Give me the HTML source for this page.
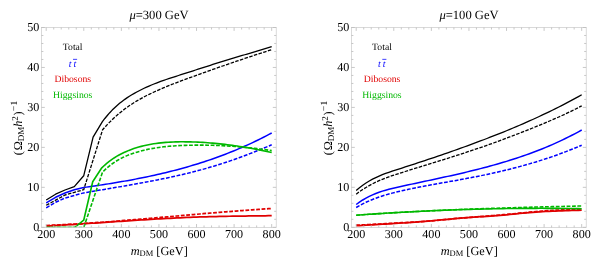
<!DOCTYPE html>
<html><head><meta charset="utf-8"><title>plot</title>
<style>
html,body{margin:0;padding:0;background:#fff;}
body{width:600px;height:267px;overflow:hidden;}
svg{display:block;will-change:transform;font-family:"Liberation Serif",serif;text-rendering:geometricPrecision;}
</style></head><body>
<svg width="600" height="267" viewBox="0 0 600 267">
<rect width="600" height="267" fill="#fff"/>
<defs><clipPath id="cl"><rect x="41.4" y="27.5" width="234.8" height="199.85"/></clipPath><clipPath id="cr"><rect x="351.4" y="27.5" width="234.8" height="199.85"/></clipPath></defs>
<g fill="none" stroke-linejoin="round"><g clip-path="url(#cl)">
<path d="M46.20,202.80 L55.60,197.30 L65.00,193.00 L74.30,189.70 L83.70,187.50 L86.42,187.12 L89.15,186.73 L91.87,186.34 L94.60,185.94 L97.32,185.54 L100.05,185.13 L102.77,184.72 L105.50,184.30 L108.22,183.87 L110.95,183.43 L113.67,182.99 L116.40,182.54 L119.12,182.08 L121.84,181.61 L124.57,181.13 L127.29,180.65 L130.02,180.15 L132.74,179.64 L135.47,179.13 L138.19,178.60 L140.92,178.06 L143.64,177.51 L146.37,176.95 L149.09,176.38 L151.82,175.80 L154.54,175.20 L157.27,174.59 L159.99,173.97 L162.71,173.33 L165.44,172.68 L168.16,172.01 L170.89,171.33 L173.61,170.64 L176.34,169.93 L179.06,169.20 L181.79,168.46 L184.51,167.71 L187.24,166.93 L189.96,166.14 L192.69,165.33 L195.41,164.51 L198.13,163.67 L200.86,162.81 L203.58,161.93 L206.31,161.03 L209.03,160.11 L211.76,159.18 L214.48,158.22 L217.21,157.24 L219.93,156.25 L222.66,155.23 L225.38,154.19 L228.11,153.13 L230.83,152.05 L233.56,150.94 L236.28,149.82 L239.00,148.67 L241.73,147.50 L244.45,146.30 L247.18,145.08 L249.90,143.84 L252.63,142.57 L255.35,141.28 L258.08,139.96 L260.80,138.62 L263.53,137.25 L266.25,135.86 L268.98,134.44 L271.70,132.99" stroke="#0000ff" stroke-width="1.50"/>
<path d="M46.20,207.80 L55.60,202.30 L65.00,198.00 L83.70,192.90 L86.42,192.43 L89.15,191.95 L91.87,191.49 L94.60,191.02 L97.32,190.56 L100.05,190.10 L102.77,189.64 L105.50,189.18 L108.22,188.72 L110.95,188.26 L113.67,187.80 L116.40,187.33 L119.12,186.87 L121.84,186.41 L124.57,185.94 L127.29,185.47 L130.02,184.99 L132.74,184.51 L135.47,184.03 L138.19,183.54 L140.92,183.05 L143.64,182.55 L146.37,182.04 L149.09,181.53 L151.82,181.01 L154.54,180.48 L157.27,179.95 L159.99,179.40 L162.71,178.85 L165.44,178.29 L168.16,177.71 L170.89,177.13 L173.61,176.54 L176.34,175.93 L179.06,175.31 L181.79,174.68 L184.51,174.03 L187.24,173.38 L189.96,172.71 L192.69,172.02 L195.41,171.32 L198.13,170.60 L200.86,169.87 L203.58,169.12 L206.31,168.36 L209.03,167.58 L211.76,166.78 L214.48,165.96 L217.21,165.12 L219.93,164.27 L222.66,163.39 L225.38,162.50 L228.11,161.58 L230.83,160.65 L233.56,159.70 L236.28,158.74 L239.00,157.75 L241.73,156.75 L244.45,155.74 L247.18,154.71 L249.90,153.66 L252.63,152.60 L255.35,151.52 L258.08,150.43 L260.80,149.33 L263.53,148.21 L266.25,147.08 L268.98,145.94 L271.70,144.79" stroke="#0000ff" stroke-width="1.50" stroke-dasharray="3.8 1.6"/>
<path d="M46.20,226.00 L49.47,225.83 L52.74,225.66 L56.00,225.48 L59.27,225.29 L62.54,225.10 L65.81,224.91 L69.08,224.71 L72.34,224.51 L75.61,224.31 L78.88,224.10 L82.15,223.89 L85.42,223.68 L88.69,223.46 L91.95,223.25 L95.22,223.03 L98.49,222.81 L101.76,222.59 L105.03,222.37 L108.29,222.15 L111.56,221.93 L114.83,221.71 L118.10,221.49 L121.37,221.27 L124.63,221.05 L127.90,220.83 L131.17,220.62 L134.44,220.41 L137.71,220.19 L140.98,219.98 L144.24,219.78 L147.51,219.58 L150.78,219.38 L154.05,219.18 L157.32,218.99 L160.58,218.80 L163.85,218.62 L167.12,218.44 L170.39,218.26 L173.66,218.10 L176.92,217.93 L180.19,217.78 L183.46,217.63 L186.73,217.48 L190.00,217.34 L193.27,217.21 L196.53,217.09 L199.80,216.98 L203.07,216.87 L206.34,216.77 L209.61,216.68 L212.87,216.59 L216.14,216.51 L219.41,216.44 L222.68,216.37 L225.95,216.31 L229.21,216.25 L232.48,216.19 L235.75,216.14 L239.02,216.09 L242.29,216.05 L245.56,216.01 L248.82,215.97 L252.09,215.93 L255.36,215.89 L258.63,215.85 L261.90,215.81 L265.16,215.78 L268.43,215.74 L271.70,215.70" stroke="#e00000" stroke-width="1.75"/>
<path d="M46.20,225.50 L49.47,225.36 L52.74,225.22 L56.00,225.06 L59.27,224.90 L62.54,224.73 L65.81,224.56 L69.08,224.38 L72.34,224.19 L75.61,224.00 L78.88,223.80 L82.15,223.59 L85.42,223.38 L88.69,223.17 L91.95,222.95 L95.22,222.72 L98.49,222.49 L101.76,222.25 L105.03,222.01 L108.29,221.77 L111.56,221.52 L114.83,221.27 L118.10,221.01 L121.37,220.75 L124.63,220.49 L127.90,220.22 L131.17,219.95 L134.44,219.68 L137.71,219.41 L140.98,219.13 L144.24,218.85 L147.51,218.57 L150.78,218.29 L154.05,218.01 L157.32,217.73 L160.58,217.44 L163.85,217.15 L167.12,216.87 L170.39,216.58 L173.66,216.29 L176.92,216.00 L180.19,215.72 L183.46,215.43 L186.73,215.14 L190.00,214.86 L193.27,214.57 L196.53,214.29 L199.80,214.00 L203.07,213.72 L206.34,213.44 L209.61,213.16 L212.87,212.89 L216.14,212.61 L219.41,212.34 L222.68,212.07 L225.95,211.81 L229.21,211.55 L232.48,211.29 L235.75,211.03 L239.02,210.78 L242.29,210.53 L245.56,210.29 L248.82,210.05 L252.09,209.81 L255.36,209.58 L258.63,209.35 L261.90,209.13 L265.16,208.92 L268.43,208.71 L271.70,208.50" stroke="#e00000" stroke-width="1.75" stroke-dasharray="3.8 1.6"/>
<path d="M46.20,227.55 L74.60,227.55 L83.70,220.20 L92.70,181.70 L101.80,167.80 L104.26,165.52 L106.72,163.41 L109.19,161.45 L111.65,159.64 L114.11,157.96 L116.57,156.42 L119.04,155.00 L121.50,153.70 L123.96,152.50 L126.42,151.40 L128.89,150.38 L131.35,149.45 L133.81,148.58 L136.27,147.78 L138.73,147.05 L141.20,146.37 L143.66,145.75 L146.12,145.19 L148.58,144.68 L151.05,144.22 L153.51,143.80 L155.97,143.44 L158.43,143.12 L160.90,142.84 L163.36,142.60 L165.82,142.39 L168.28,142.22 L170.74,142.09 L173.21,141.98 L175.67,141.90 L178.13,141.85 L180.59,141.82 L183.06,141.81 L185.52,141.83 L187.98,141.86 L190.44,141.90 L192.91,141.97 L195.37,142.06 L197.83,142.16 L200.29,142.28 L202.76,142.42 L205.22,142.57 L207.68,142.74 L210.14,142.93 L212.60,143.14 L215.07,143.36 L217.53,143.59 L219.99,143.85 L222.45,144.12 L224.92,144.40 L227.38,144.70 L229.84,145.02 L232.30,145.35 L234.77,145.69 L237.23,146.05 L239.69,146.42 L242.15,146.81 L244.61,147.21 L247.08,147.63 L249.54,148.06 L252.00,148.50 L254.46,148.96 L256.93,149.42 L259.39,149.91 L261.85,150.40 L264.31,150.91 L266.78,151.42 L269.24,151.95 L271.70,152.50" stroke="#00b800" stroke-width="1.60"/>
<path d="M46.20,227.55 L83.70,227.55 L102.50,172.20 L104.95,169.79 L107.40,167.59 L109.86,165.57 L112.31,163.72 L114.76,162.04 L117.21,160.51 L119.67,159.11 L122.12,157.84 L124.57,156.69 L127.02,155.63 L129.47,154.66 L131.93,153.77 L134.38,152.94 L136.83,152.17 L139.28,151.46 L141.73,150.79 L144.19,150.18 L146.64,149.61 L149.09,149.09 L151.54,148.61 L154.00,148.18 L156.45,147.78 L158.90,147.42 L161.35,147.10 L163.80,146.81 L166.26,146.55 L168.71,146.32 L171.16,146.12 L173.61,145.94 L176.07,145.78 L178.52,145.65 L180.97,145.53 L183.42,145.43 L185.87,145.34 L188.33,145.27 L190.78,145.21 L193.23,145.17 L195.68,145.14 L198.13,145.13 L200.59,145.12 L203.04,145.14 L205.49,145.16 L207.94,145.20 L210.40,145.25 L212.85,145.32 L215.30,145.40 L217.75,145.49 L220.20,145.59 L222.66,145.71 L225.11,145.84 L227.56,145.98 L230.01,146.14 L232.47,146.31 L234.92,146.49 L237.37,146.68 L239.82,146.88 L242.27,147.10 L244.73,147.33 L247.18,147.57 L249.63,147.82 L252.08,148.08 L254.53,148.36 L256.99,148.65 L259.44,148.94 L261.89,149.25 L264.34,149.57 L266.80,149.90 L269.25,150.25 L271.70,150.60" stroke="#00b800" stroke-width="1.60" stroke-dasharray="3.8 1.6"/>
<path d="M46.20,200.00 L55.60,194.20 L65.00,190.00 L74.30,186.60 L83.70,175.80 L93.10,137.20 L102.40,121.70 L104.85,118.47 L107.31,115.47 L109.76,112.68 L112.21,110.08 L114.67,107.67 L117.12,105.43 L119.58,103.35 L122.03,101.41 L124.48,99.59 L126.94,97.90 L129.39,96.30 L131.84,94.80 L134.30,93.37 L136.75,92.01 L139.20,90.71 L141.66,89.47 L144.11,88.28 L146.57,87.14 L149.02,86.06 L151.47,85.02 L153.93,84.02 L156.38,83.05 L158.83,82.12 L161.29,81.22 L163.74,80.35 L166.19,79.50 L168.65,78.68 L171.10,77.86 L173.56,77.07 L176.01,76.28 L178.46,75.50 L180.92,74.72 L183.37,73.94 L185.82,73.16 L188.28,72.37 L190.73,71.58 L193.18,70.79 L195.64,70.00 L198.09,69.21 L200.54,68.42 L203.00,67.63 L205.45,66.84 L207.91,66.05 L210.36,65.27 L212.81,64.49 L215.27,63.71 L217.72,62.93 L220.17,62.16 L222.63,61.39 L225.08,60.63 L227.53,59.87 L229.99,59.13 L232.44,58.38 L234.90,57.65 L237.35,56.92 L239.80,56.19 L242.26,55.47 L244.71,54.75 L247.16,54.03 L249.62,53.31 L252.07,52.59 L254.52,51.87 L256.98,51.14 L259.43,50.42 L261.89,49.69 L264.34,48.95 L266.79,48.21 L269.25,47.46 L271.70,46.70" stroke="#000" stroke-width="1.30"/>
<path d="M46.20,205.30 L65.00,195.00 L83.70,189.70 L102.60,129.80 L105.05,127.04 L107.50,124.41 L109.95,121.89 L112.40,119.50 L114.85,117.21 L117.30,115.03 L119.76,112.96 L122.21,110.98 L124.66,109.09 L127.11,107.30 L129.56,105.58 L132.01,103.95 L134.46,102.39 L136.91,100.89 L139.36,99.47 L141.81,98.10 L144.26,96.79 L146.71,95.53 L149.16,94.31 L151.61,93.14 L154.07,92.00 L156.52,90.89 L158.97,89.82 L161.42,88.76 L163.87,87.72 L166.32,86.71 L168.77,85.71 L171.22,84.72 L173.67,83.76 L176.12,82.80 L178.57,81.86 L181.02,80.93 L183.47,80.01 L185.92,79.10 L188.38,78.20 L190.83,77.31 L193.28,76.42 L195.73,75.53 L198.18,74.65 L200.63,73.77 L203.08,72.90 L205.53,72.02 L207.98,71.15 L210.43,70.29 L212.88,69.42 L215.33,68.56 L217.78,67.71 L220.23,66.85 L222.69,66.00 L225.14,65.15 L227.59,64.31 L230.04,63.46 L232.49,62.63 L234.94,61.79 L237.39,60.96 L239.84,60.13 L242.29,59.31 L244.74,58.49 L247.19,57.67 L249.64,56.86 L252.09,56.05 L254.54,55.24 L257.00,54.44 L259.45,53.64 L261.90,52.84 L264.35,52.05 L266.80,51.27 L269.25,50.48 L271.70,49.70" stroke="#000" stroke-width="1.30" stroke-dasharray="3.5 1.4"/>
</g><g clip-path="url(#cr)">
<path d="M356.20,204.50 L359.47,202.12 L362.74,199.98 L366.00,198.06 L369.27,196.35 L372.54,194.82 L375.81,193.46 L379.08,192.24 L382.34,191.15 L385.61,190.17 L388.88,189.28 L392.15,188.47 L395.42,187.70 L398.69,186.97 L401.95,186.25 L405.22,185.54 L408.49,184.83 L411.76,184.12 L415.03,183.42 L418.29,182.72 L421.56,182.03 L424.83,181.33 L428.10,180.63 L431.37,179.93 L434.63,179.23 L437.90,178.52 L441.17,177.82 L444.44,177.10 L447.71,176.38 L450.98,175.65 L454.24,174.92 L457.51,174.17 L460.78,173.42 L464.05,172.66 L467.32,171.88 L470.58,171.09 L473.85,170.29 L477.12,169.48 L480.39,168.64 L483.66,167.80 L486.92,166.94 L490.19,166.05 L493.46,165.15 L496.73,164.23 L500.00,163.29 L503.27,162.33 L506.53,161.35 L509.80,160.34 L513.07,159.30 L516.34,158.25 L519.61,157.16 L522.87,156.04 L526.14,154.90 L529.41,153.73 L532.68,152.52 L535.95,151.28 L539.21,150.01 L542.48,148.71 L545.75,147.37 L549.02,145.99 L552.29,144.58 L555.56,143.13 L558.82,141.64 L562.09,140.10 L565.36,138.53 L568.63,136.91 L571.90,135.25 L575.16,133.55 L578.43,131.80 L581.70,130.00" stroke="#0000ff" stroke-width="1.50"/>
<path d="M356.20,207.50 L359.47,205.62 L362.74,203.89 L366.00,202.28 L369.27,200.81 L372.54,199.44 L375.81,198.19 L379.08,197.02 L382.34,195.95 L385.61,194.94 L388.88,194.01 L392.15,193.14 L395.42,192.31 L398.69,191.52 L401.95,190.76 L405.22,190.03 L408.49,189.32 L411.76,188.62 L415.03,187.95 L418.29,187.30 L421.56,186.66 L424.83,186.03 L428.10,185.42 L431.37,184.82 L434.63,184.22 L437.90,183.64 L441.17,183.05 L444.44,182.47 L447.71,181.90 L450.98,181.32 L454.24,180.74 L457.51,180.15 L460.78,179.56 L464.05,178.96 L467.32,178.35 L470.58,177.73 L473.85,177.10 L477.12,176.46 L480.39,175.80 L483.66,175.12 L486.92,174.44 L490.19,173.73 L493.46,173.01 L496.73,172.28 L500.00,171.52 L503.27,170.75 L506.53,169.96 L509.80,169.15 L513.07,168.32 L516.34,167.47 L519.61,166.60 L522.87,165.71 L526.14,164.79 L529.41,163.86 L532.68,162.89 L535.95,161.91 L539.21,160.90 L542.48,159.86 L545.75,158.80 L549.02,157.71 L552.29,156.59 L555.56,155.44 L558.82,154.27 L562.09,153.07 L565.36,151.84 L568.63,150.57 L571.90,149.28 L575.16,147.95 L578.43,146.59 L581.70,145.20" stroke="#0000ff" stroke-width="1.50" stroke-dasharray="3.8 1.6"/>
<path d="M356.20,225.70 L359.47,225.53 L362.74,225.35 L366.00,225.17 L369.27,224.99 L372.54,224.81 L375.81,224.62 L379.08,224.44 L382.34,224.24 L385.61,224.05 L388.88,223.84 L392.15,223.64 L395.42,223.43 L398.69,223.22 L401.95,223.00 L405.22,222.77 L408.49,222.54 L411.76,222.31 L415.03,222.07 L418.29,221.82 L421.56,221.57 L424.83,221.31 L428.10,221.05 L431.37,220.78 L434.63,220.50 L437.90,220.22 L441.17,219.94 L444.44,219.64 L447.71,219.35 L450.98,219.05 L454.24,218.74 L457.51,218.44 L460.78,218.15 L464.05,217.88 L467.32,217.62 L470.58,217.38 L473.85,217.16 L477.12,216.94 L480.39,216.73 L483.66,216.52 L486.92,216.30 L490.19,216.08 L493.46,215.85 L496.73,215.60 L500.00,215.34 L503.27,215.06 L506.53,214.76 L509.80,214.44 L513.07,214.13 L516.34,213.80 L519.61,213.48 L522.87,213.17 L526.14,212.87 L529.41,212.59 L532.68,212.33 L535.95,212.08 L539.21,211.86 L542.48,211.66 L545.75,211.47 L549.02,211.30 L552.29,211.15 L555.56,211.01 L558.82,210.88 L562.09,210.76 L565.36,210.65 L568.63,210.55 L571.90,210.45 L575.16,210.37 L578.43,210.28 L581.70,210.20" stroke="#e00000" stroke-width="1.75"/>
<path d="M356.20,225.20 L359.47,225.05 L362.74,224.90 L366.00,224.74 L369.27,224.57 L372.54,224.40 L375.81,224.22 L379.08,224.04 L382.34,223.85 L385.61,223.67 L388.88,223.48 L392.15,223.29 L395.42,223.10 L398.69,222.92 L401.95,222.73 L405.22,222.55 L408.49,222.36 L411.76,222.17 L415.03,221.98 L418.29,221.77 L421.56,221.56 L424.83,221.33 L428.10,221.09 L431.37,220.83 L434.63,220.56 L437.90,220.27 L441.17,219.97 L444.44,219.65 L447.71,219.34 L450.98,219.02 L454.24,218.70 L457.51,218.39 L460.78,218.09 L464.05,217.80 L467.32,217.53 L470.58,217.27 L473.85,217.01 L477.12,216.77 L480.39,216.52 L483.66,216.28 L486.92,216.04 L490.19,215.79 L493.46,215.54 L496.73,215.28 L500.00,215.00 L503.27,214.72 L506.53,214.42 L509.80,214.11 L513.07,213.80 L516.34,213.48 L519.61,213.16 L522.87,212.84 L526.14,212.53 L529.41,212.22 L532.68,211.92 L535.95,211.64 L539.21,211.36 L542.48,211.10 L545.75,210.85 L549.02,210.61 L552.29,210.39 L555.56,210.18 L558.82,210.00 L562.09,209.82 L565.36,209.67 L568.63,209.53 L571.90,209.42 L575.16,209.32 L578.43,209.25 L581.70,209.20" stroke="#e00000" stroke-width="1.75" stroke-dasharray="3.8 1.6"/>
<path d="M356.20,215.20 L359.47,214.97 L362.74,214.74 L366.00,214.52 L369.27,214.29 L372.54,214.08 L375.81,213.86 L379.08,213.65 L382.34,213.45 L385.61,213.25 L388.88,213.05 L392.15,212.85 L395.42,212.66 L398.69,212.47 L401.95,212.29 L405.22,212.11 L408.49,211.94 L411.76,211.76 L415.03,211.60 L418.29,211.43 L421.56,211.27 L424.83,211.12 L428.10,210.97 L431.37,210.82 L434.63,210.67 L437.90,210.53 L441.17,210.40 L444.44,210.27 L447.71,210.14 L450.98,210.02 L454.24,209.90 L457.51,209.78 L460.78,209.67 L464.05,209.57 L467.32,209.46 L470.58,209.37 L473.85,209.27 L477.12,209.18 L480.39,209.10 L483.66,209.02 L486.92,208.94 L490.19,208.87 L493.46,208.80 L496.73,208.74 L500.00,208.68 L503.27,208.62 L506.53,208.57 L509.80,208.53 L513.07,208.49 L516.34,208.45 L519.61,208.42 L522.87,208.39 L526.14,208.37 L529.41,208.35 L532.68,208.34 L535.95,208.33 L539.21,208.32 L542.48,208.32 L545.75,208.33 L549.02,208.34 L552.29,208.35 L555.56,208.37 L558.82,208.40 L562.09,208.43 L565.36,208.46 L568.63,208.50 L571.90,208.54 L575.16,208.59 L578.43,208.64 L581.70,208.70" stroke="#00b800" stroke-width="1.60"/>
<path d="M356.20,215.20 L359.47,214.97 L362.74,214.74 L366.00,214.51 L369.27,214.29 L372.54,214.07 L375.81,213.86 L379.08,213.65 L382.34,213.44 L385.61,213.24 L388.88,213.04 L392.15,212.85 L395.42,212.66 L398.69,212.47 L401.95,212.28 L405.22,212.10 L408.49,211.92 L411.76,211.75 L415.03,211.58 L418.29,211.41 L421.56,211.24 L424.83,211.08 L428.10,210.92 L431.37,210.77 L434.63,210.61 L437.90,210.46 L441.17,210.32 L444.44,210.17 L447.71,210.03 L450.98,209.89 L454.24,209.76 L457.51,209.62 L460.78,209.49 L464.05,209.36 L467.32,209.24 L470.58,209.11 L473.85,208.99 L477.12,208.87 L480.39,208.75 L483.66,208.64 L486.92,208.53 L490.19,208.42 L493.46,208.31 L496.73,208.20 L500.00,208.10 L503.27,208.00 L506.53,207.90 L509.80,207.80 L513.07,207.70 L516.34,207.61 L519.61,207.51 L522.87,207.42 L526.14,207.33 L529.41,207.24 L532.68,207.16 L535.95,207.07 L539.21,206.99 L542.48,206.90 L545.75,206.82 L549.02,206.74 L552.29,206.66 L555.56,206.59 L558.82,206.51 L562.09,206.43 L565.36,206.36 L568.63,206.29 L571.90,206.21 L575.16,206.14 L578.43,206.07 L581.70,206.00" stroke="#00b800" stroke-width="1.60" stroke-dasharray="3.8 1.6"/>
<path d="M356.20,190.40 L359.47,187.65 L362.74,185.18 L366.00,182.98 L369.27,180.99 L372.54,179.18 L375.81,177.55 L379.08,176.06 L382.34,174.70 L385.61,173.44 L388.88,172.27 L392.15,171.16 L395.42,170.09 L398.69,169.05 L401.95,168.01 L405.22,166.97 L408.49,165.92 L411.76,164.86 L415.03,163.80 L418.29,162.73 L421.56,161.65 L424.83,160.57 L428.10,159.48 L431.37,158.39 L434.63,157.29 L437.90,156.18 L441.17,155.06 L444.44,153.93 L447.71,152.80 L450.98,151.66 L454.24,150.51 L457.51,149.35 L460.78,148.18 L464.05,147.00 L467.32,145.82 L470.58,144.62 L473.85,143.42 L477.12,142.20 L480.39,140.98 L483.66,139.74 L486.92,138.49 L490.19,137.23 L493.46,135.96 L496.73,134.67 L500.00,133.37 L503.27,132.06 L506.53,130.73 L509.80,129.38 L513.07,128.02 L516.34,126.64 L519.61,125.25 L522.87,123.83 L526.14,122.40 L529.41,120.95 L532.68,119.49 L535.95,118.00 L539.21,116.49 L542.48,114.96 L545.75,113.41 L549.02,111.84 L552.29,110.24 L555.56,108.63 L558.82,106.98 L562.09,105.32 L565.36,103.63 L568.63,101.92 L571.90,100.18 L575.16,98.41 L578.43,96.62 L581.70,94.80" stroke="#000" stroke-width="1.30"/>
<path d="M356.20,194.30 L359.47,191.68 L362.74,189.54 L366.00,187.50 L369.27,185.56 L372.54,183.78 L375.81,182.15 L379.08,180.66 L382.34,179.28 L385.61,178.01 L388.88,176.82 L392.15,175.69 L395.42,174.61 L398.69,173.56 L401.95,172.53 L405.22,171.50 L408.49,170.47 L411.76,169.45 L415.03,168.43 L418.29,167.42 L421.56,166.41 L424.83,165.39 L428.10,164.38 L431.37,163.37 L434.63,162.36 L437.90,161.34 L441.17,160.32 L444.44,159.30 L447.71,158.27 L450.98,157.24 L454.24,156.20 L457.51,155.15 L460.78,154.10 L464.05,153.04 L467.32,151.97 L470.58,150.89 L473.85,149.80 L477.12,148.69 L480.39,147.58 L483.66,146.45 L486.92,145.31 L490.19,144.16 L493.46,142.99 L496.73,141.81 L500.00,140.62 L503.27,139.41 L506.53,138.19 L509.80,136.96 L513.07,135.72 L516.34,134.46 L519.61,133.20 L522.87,131.91 L526.14,130.62 L529.41,129.32 L532.68,128.00 L535.95,126.67 L539.21,125.33 L542.48,123.98 L545.75,122.62 L549.02,121.24 L552.29,119.84 L555.56,118.42 L558.82,116.98 L562.09,115.50 L565.36,114.00 L568.63,112.45 L571.90,110.86 L575.16,109.23 L578.43,107.54 L581.70,105.81" stroke="#000" stroke-width="1.30" stroke-dasharray="3.5 1.4"/>
</g></g>
<g stroke="#c6c6c6" stroke-width="0.66" fill="none">
<rect x="41.40" y="27.50" width="234.80" height="199.95"/>
<path d="M46.20,227.45 v-3.40 M46.20,27.50 v3.40 M53.72,227.45 v-2.00 M53.72,27.50 v2.00 M61.23,227.45 v-2.00 M61.23,27.50 v2.00 M68.75,227.45 v-2.00 M68.75,27.50 v2.00 M76.26,227.45 v-2.00 M76.26,27.50 v2.00 M83.78,227.45 v-3.40 M83.78,27.50 v3.40 M91.30,227.45 v-2.00 M91.30,27.50 v2.00 M98.81,227.45 v-2.00 M98.81,27.50 v2.00 M106.33,227.45 v-2.00 M106.33,27.50 v2.00 M113.84,227.45 v-2.00 M113.84,27.50 v2.00 M121.36,227.45 v-3.40 M121.36,27.50 v3.40 M128.88,227.45 v-2.00 M128.88,27.50 v2.00 M136.39,227.45 v-2.00 M136.39,27.50 v2.00 M143.91,227.45 v-2.00 M143.91,27.50 v2.00 M151.42,227.45 v-2.00 M151.42,27.50 v2.00 M158.94,227.45 v-3.40 M158.94,27.50 v3.40 M166.46,227.45 v-2.00 M166.46,27.50 v2.00 M173.97,227.45 v-2.00 M173.97,27.50 v2.00 M181.49,227.45 v-2.00 M181.49,27.50 v2.00 M189.00,227.45 v-2.00 M189.00,27.50 v2.00 M196.52,227.45 v-3.40 M196.52,27.50 v3.40 M204.04,227.45 v-2.00 M204.04,27.50 v2.00 M211.55,227.45 v-2.00 M211.55,27.50 v2.00 M219.07,227.45 v-2.00 M219.07,27.50 v2.00 M226.58,227.45 v-2.00 M226.58,27.50 v2.00 M234.10,227.45 v-3.40 M234.10,27.50 v3.40 M241.62,227.45 v-2.00 M241.62,27.50 v2.00 M249.13,227.45 v-2.00 M249.13,27.50 v2.00 M256.65,227.45 v-2.00 M256.65,27.50 v2.00 M264.16,227.45 v-2.00 M264.16,27.50 v2.00 M271.68,227.45 v-3.40 M271.68,27.50 v3.40 M41.40,227.30 h3.40 M276.20,227.30 h-3.40 M41.40,219.31 h2.00 M276.20,219.31 h-2.00 M41.40,211.32 h2.00 M276.20,211.32 h-2.00 M41.40,203.32 h2.00 M276.20,203.32 h-2.00 M41.40,195.33 h2.00 M276.20,195.33 h-2.00 M41.40,187.34 h3.40 M276.20,187.34 h-3.40 M41.40,179.35 h2.00 M276.20,179.35 h-2.00 M41.40,171.36 h2.00 M276.20,171.36 h-2.00 M41.40,163.36 h2.00 M276.20,163.36 h-2.00 M41.40,155.37 h2.00 M276.20,155.37 h-2.00 M41.40,147.38 h3.40 M276.20,147.38 h-3.40 M41.40,139.39 h2.00 M276.20,139.39 h-2.00 M41.40,131.40 h2.00 M276.20,131.40 h-2.00 M41.40,123.40 h2.00 M276.20,123.40 h-2.00 M41.40,115.41 h2.00 M276.20,115.41 h-2.00 M41.40,107.42 h3.40 M276.20,107.42 h-3.40 M41.40,99.43 h2.00 M276.20,99.43 h-2.00 M41.40,91.44 h2.00 M276.20,91.44 h-2.00 M41.40,83.44 h2.00 M276.20,83.44 h-2.00 M41.40,75.45 h2.00 M276.20,75.45 h-2.00 M41.40,67.46 h3.40 M276.20,67.46 h-3.40 M41.40,59.47 h2.00 M276.20,59.47 h-2.00 M41.40,51.48 h2.00 M276.20,51.48 h-2.00 M41.40,43.48 h2.00 M276.20,43.48 h-2.00 M41.40,35.49 h2.00 M276.20,35.49 h-2.00 M41.40,27.50 h3.40 M276.20,27.50 h-3.40 " stroke="#bebebe" stroke-width="0.85"/>
</g>
<g font-size="12.1" fill="#000">
<text x="46.20" y="238.3" text-anchor="middle">200</text>
<text x="83.78" y="238.3" text-anchor="middle">300</text>
<text x="121.36" y="238.3" text-anchor="middle">400</text>
<text x="158.94" y="238.3" text-anchor="middle">500</text>
<text x="196.52" y="238.3" text-anchor="middle">600</text>
<text x="234.10" y="238.3" text-anchor="middle">700</text>
<text x="271.68" y="238.3" text-anchor="middle">800</text>
<text x="39.30" y="230.80" text-anchor="end">0</text>
<text x="39.30" y="190.84" text-anchor="end">10</text>
<text x="39.30" y="150.88" text-anchor="end">20</text>
<text x="39.30" y="110.92" text-anchor="end">30</text>
<text x="39.30" y="70.96" text-anchor="end">40</text>
<text x="39.30" y="31.00" text-anchor="end">50</text>
</g>
<g stroke="#c6c6c6" stroke-width="0.66" fill="none">
<rect x="351.40" y="27.50" width="234.80" height="199.95"/>
<path d="M356.20,227.45 v-3.40 M356.20,27.50 v3.40 M363.72,227.45 v-2.00 M363.72,27.50 v2.00 M371.23,227.45 v-2.00 M371.23,27.50 v2.00 M378.75,227.45 v-2.00 M378.75,27.50 v2.00 M386.26,227.45 v-2.00 M386.26,27.50 v2.00 M393.78,227.45 v-3.40 M393.78,27.50 v3.40 M401.30,227.45 v-2.00 M401.30,27.50 v2.00 M408.81,227.45 v-2.00 M408.81,27.50 v2.00 M416.33,227.45 v-2.00 M416.33,27.50 v2.00 M423.84,227.45 v-2.00 M423.84,27.50 v2.00 M431.36,227.45 v-3.40 M431.36,27.50 v3.40 M438.88,227.45 v-2.00 M438.88,27.50 v2.00 M446.39,227.45 v-2.00 M446.39,27.50 v2.00 M453.91,227.45 v-2.00 M453.91,27.50 v2.00 M461.42,227.45 v-2.00 M461.42,27.50 v2.00 M468.94,227.45 v-3.40 M468.94,27.50 v3.40 M476.46,227.45 v-2.00 M476.46,27.50 v2.00 M483.97,227.45 v-2.00 M483.97,27.50 v2.00 M491.49,227.45 v-2.00 M491.49,27.50 v2.00 M499.00,227.45 v-2.00 M499.00,27.50 v2.00 M506.52,227.45 v-3.40 M506.52,27.50 v3.40 M514.04,227.45 v-2.00 M514.04,27.50 v2.00 M521.55,227.45 v-2.00 M521.55,27.50 v2.00 M529.07,227.45 v-2.00 M529.07,27.50 v2.00 M536.58,227.45 v-2.00 M536.58,27.50 v2.00 M544.10,227.45 v-3.40 M544.10,27.50 v3.40 M551.62,227.45 v-2.00 M551.62,27.50 v2.00 M559.13,227.45 v-2.00 M559.13,27.50 v2.00 M566.65,227.45 v-2.00 M566.65,27.50 v2.00 M574.16,227.45 v-2.00 M574.16,27.50 v2.00 M581.68,227.45 v-3.40 M581.68,27.50 v3.40 M351.40,227.30 h3.40 M586.20,227.30 h-3.40 M351.40,219.31 h2.00 M586.20,219.31 h-2.00 M351.40,211.32 h2.00 M586.20,211.32 h-2.00 M351.40,203.32 h2.00 M586.20,203.32 h-2.00 M351.40,195.33 h2.00 M586.20,195.33 h-2.00 M351.40,187.34 h3.40 M586.20,187.34 h-3.40 M351.40,179.35 h2.00 M586.20,179.35 h-2.00 M351.40,171.36 h2.00 M586.20,171.36 h-2.00 M351.40,163.36 h2.00 M586.20,163.36 h-2.00 M351.40,155.37 h2.00 M586.20,155.37 h-2.00 M351.40,147.38 h3.40 M586.20,147.38 h-3.40 M351.40,139.39 h2.00 M586.20,139.39 h-2.00 M351.40,131.40 h2.00 M586.20,131.40 h-2.00 M351.40,123.40 h2.00 M586.20,123.40 h-2.00 M351.40,115.41 h2.00 M586.20,115.41 h-2.00 M351.40,107.42 h3.40 M586.20,107.42 h-3.40 M351.40,99.43 h2.00 M586.20,99.43 h-2.00 M351.40,91.44 h2.00 M586.20,91.44 h-2.00 M351.40,83.44 h2.00 M586.20,83.44 h-2.00 M351.40,75.45 h2.00 M586.20,75.45 h-2.00 M351.40,67.46 h3.40 M586.20,67.46 h-3.40 M351.40,59.47 h2.00 M586.20,59.47 h-2.00 M351.40,51.48 h2.00 M586.20,51.48 h-2.00 M351.40,43.48 h2.00 M586.20,43.48 h-2.00 M351.40,35.49 h2.00 M586.20,35.49 h-2.00 M351.40,27.50 h3.40 M586.20,27.50 h-3.40 " stroke="#bebebe" stroke-width="0.85"/>
</g>
<g font-size="12.1" fill="#000">
<text x="356.20" y="238.3" text-anchor="middle">200</text>
<text x="393.78" y="238.3" text-anchor="middle">300</text>
<text x="431.36" y="238.3" text-anchor="middle">400</text>
<text x="468.94" y="238.3" text-anchor="middle">500</text>
<text x="506.52" y="238.3" text-anchor="middle">600</text>
<text x="544.10" y="238.3" text-anchor="middle">700</text>
<text x="581.68" y="238.3" text-anchor="middle">800</text>
<text x="349.30" y="230.80" text-anchor="end">0</text>
<text x="349.30" y="190.84" text-anchor="end">10</text>
<text x="349.30" y="150.88" text-anchor="end">20</text>
<text x="349.30" y="110.92" text-anchor="end">30</text>
<text x="349.30" y="70.96" text-anchor="end">40</text>
<text x="349.30" y="31.00" text-anchor="end">50</text>
</g>
<text x="159.00" y="18.8" font-size="12.6" text-anchor="middle"><tspan font-style="italic">μ</tspan>=300 GeV</text>
<text x="159.20" y="254.7" font-size="12.3" text-anchor="middle"><tspan font-style="italic">m</tspan><tspan font-size="8.5" dy="1.3">DM</tspan><tspan dy="-1.3"> [GeV]</tspan></text>
<text transform="translate(22.00,127.7) rotate(-90)" font-size="12.2" text-anchor="middle">(<tspan dx="0.9">Ω</tspan><tspan font-size="9" dy="1.6">DM</tspan><tspan dy="-1.6" font-style="italic">h</tspan><tspan font-size="9" dy="-4.2">2</tspan><tspan dy="4.2" dx="0.8">)</tspan><tspan font-size="9.6" dy="-4.6" letter-spacing="0.5">−1</tspan></text>
<g font-size="9.7" text-anchor="middle">
<text x="72.70" y="50.2" fill="#000">Total</text>
<text x="68.80" y="67.1" fill="#0000ff" font-style="italic" text-anchor="start">t</text><text x="73.50" y="67.1" fill="#0000ff" font-style="italic" text-anchor="start">t</text><path d="M73.00,59.35 h4.1" stroke="#0000ff" stroke-width="0.75" fill="none"/>
<text x="72.80" y="82" fill="#e00000">Dibosons</text>
<text x="72.70" y="98" fill="#00b800">Higgsinos</text>
</g>
<text x="469.00" y="18.8" font-size="12.6" text-anchor="middle"><tspan font-style="italic">μ</tspan>=100 GeV</text>
<text x="469.20" y="254.7" font-size="12.3" text-anchor="middle"><tspan font-style="italic">m</tspan><tspan font-size="8.5" dy="1.3">DM</tspan><tspan dy="-1.3"> [GeV]</tspan></text>
<text transform="translate(332.00,127.7) rotate(-90)" font-size="12.2" text-anchor="middle">(<tspan dx="0.9">Ω</tspan><tspan font-size="9" dy="1.6">DM</tspan><tspan dy="-1.6" font-style="italic">h</tspan><tspan font-size="9" dy="-4.2">2</tspan><tspan dy="4.2" dx="0.8">)</tspan><tspan font-size="9.6" dy="-4.6" letter-spacing="0.5">−1</tspan></text>
<g font-size="9.7" text-anchor="middle">
<text x="382.00" y="50.2" fill="#000">Total</text>
<text x="378.10" y="67.1" fill="#0000ff" font-style="italic" text-anchor="start">t</text><text x="382.80" y="67.1" fill="#0000ff" font-style="italic" text-anchor="start">t</text><path d="M382.30,59.35 h4.1" stroke="#0000ff" stroke-width="0.75" fill="none"/>
<text x="382.10" y="82" fill="#e00000">Dibosons</text>
<text x="382.00" y="98" fill="#00b800">Higgsinos</text>
</g>
</svg>
</body></html>
